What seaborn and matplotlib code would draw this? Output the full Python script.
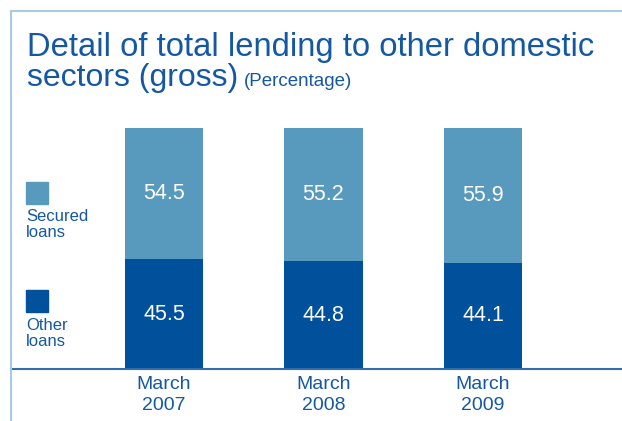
import matplotlib
matplotlib.use("Agg")
import matplotlib.pyplot as plt
import seaborn as sns
import pandas as pd
from matplotlib.lines import Line2D
from matplotlib.patches import Rectangle

periods = ["March\n2007", "March\n2008", "March\n2009"]
secured_loans = [54.5, 55.2, 55.9]
other_loans = [45.5, 44.8, 44.1]

LIGHT = "#5899BE"
DARK = "#00509B"
TEXT_BLUE = "#1458A4"
FRAME = "#A8CBE0"
AXIS = "#2F6DB0"

sns.set_theme(style="white")
plt.rcParams["font.family"] = ["Liberation Sans", "DejaVu Sans"]

df = pd.DataFrame({
    "period": periods,
    "secured": secured_loans,
    "other": other_loans,
})
df["total"] = df["secured"] + df["other"]

W, H = 622, 421
fig = plt.figure(figsize=(W / 100, H / 100), dpi=100)
ax = fig.add_axes([11 / W, (H - 369) / H, 1 - 11 / W, 241 / H])

# stacked bars: full height in the light colour, then the lower segment on top
sns.barplot(data=df, x="period", y="total", color=LIGHT, width=0.49,
            saturation=1, linewidth=0, ax=ax)
sns.barplot(data=df, x="period", y="other", color=DARK, width=0.49,
            saturation=1, linewidth=0, ax=ax)

for i, (o, s) in enumerate(zip(df["other"], df["secured"])):
    ax.text(i, o + s / 2, f"{s:.1f}", ha="center", va="center",
            color="white", fontsize=15.5)
    ax.text(i, o / 2, f"{o:.1f}", ha="center", va="center",
            color="white", fontsize=15.5)

ax.set_xlim(-0.959, 2.871)
ax.set_ylim(0, 100)
ax.set_xlabel("")
ax.set_ylabel("")
ax.set_yticks([])
ax.tick_params(axis="x", length=0, pad=5, labelsize=14, labelcolor=TEXT_BLUE)
for lbl in ax.get_xticklabels():
    lbl.set_linespacing(1.35)
for side in ["top", "right", "left"]:
    ax.spines[side].set_visible(False)
ax.spines["bottom"].set_color(AXIS)
ax.spines["bottom"].set_linewidth(1.5)
ax.patch.set_alpha(0)

# outer frame: top and left edges
fig.add_artist(Line2D([11 / W, 1], [1 - 11 / H, 1 - 11 / H],
                      color=FRAME, lw=1.5, transform=fig.transFigure))
fig.add_artist(Line2D([11 / W, 11 / W], [0, 1 - 11 / H],
                      color=FRAME, lw=1.5, transform=fig.transFigure))

# title
fig.text(27 / W, 1 - 56 / H, "Detail of total lending to other domestic",
         color=TEXT_BLUE, fontsize=23.6, ha="left", va="baseline")
t2 = fig.text(27 / W, 1 - 86 / H, "sectors (gross)", color=TEXT_BLUE,
              fontsize=23, ha="left", va="baseline")
fig.canvas.draw()
bb = t2.get_window_extent()
fig.text((bb.x1 + 6) / W, 1 - 86 / H, "(Percentage)", color=TEXT_BLUE,
         fontsize=13.5, ha="left", va="baseline")

# legend
fig.add_artist(Rectangle((26 / W, 1 - 204 / H), 22 / W, 22 / H, color=LIGHT,
                         transform=fig.transFigure))
fig.text(26 / W, 1 - 209 / H, "Secured\nloans", color=TEXT_BLUE, fontsize=12,
         ha="left", va="top", linespacing=1.05)
fig.add_artist(Rectangle((26 / W, 1 - 312 / H), 22 / W, 22 / H, color=DARK,
                         transform=fig.transFigure))
fig.text(26 / W, 1 - 318 / H, "Other\nloans", color=TEXT_BLUE, fontsize=12,
         ha="left", va="top", linespacing=1.05)

fig.savefig("out.png", dpi=100)
